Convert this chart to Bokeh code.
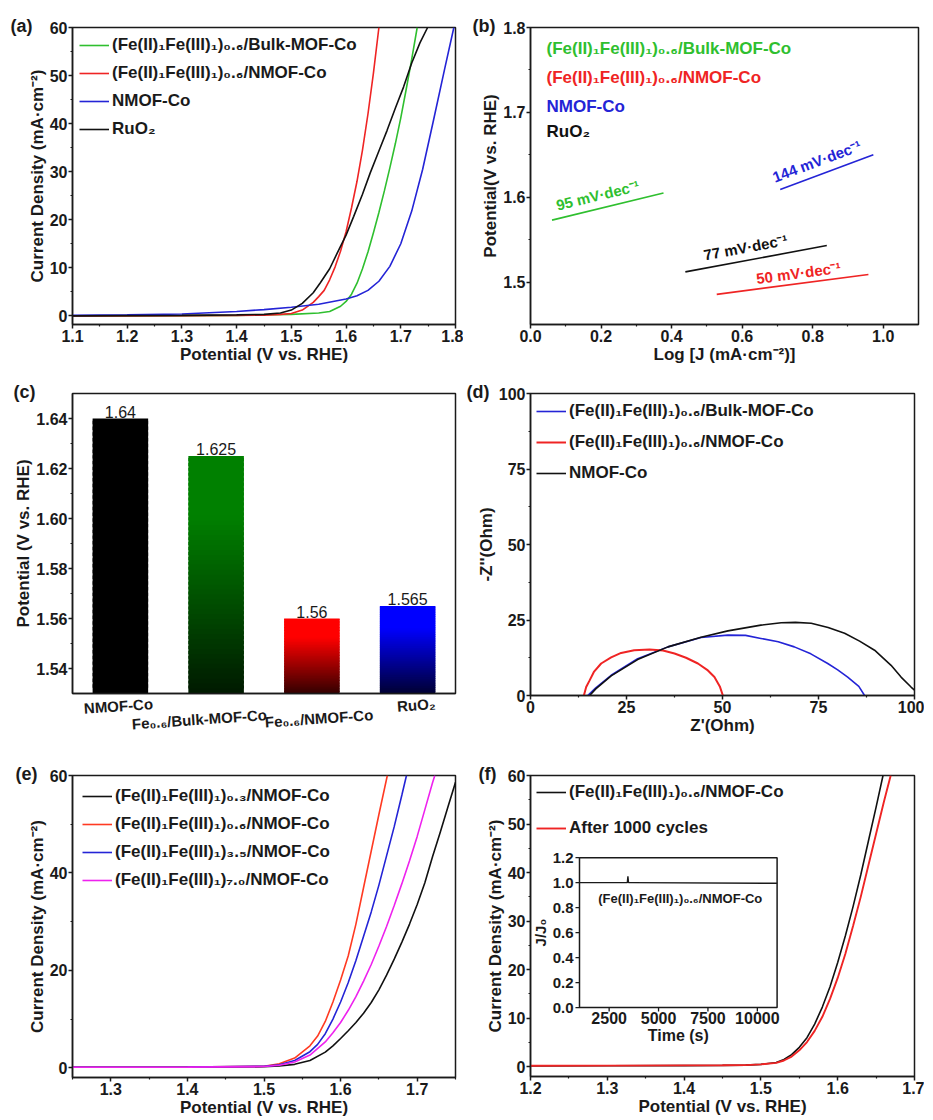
import math
from bokeh.plotting import figure
from bokeh.models import Range1d, FixedTicker, Label, LinearAxis, NumeralTickFormatter, Title
from bokeh.layouts import gridplot
from bokeh.embed import file_html
from bokeh.resources import INLINE
from bokeh.core.properties import value

FONT = "Liberation Sans"
INK = "#1a1a1a"
GREEN = "#2fbf2f"
RED = "#ef2424"
BLUE = "#2424d6"
BLACK = "#111111"
MAGENTA = "#ee22ee"
ORED = "#ff3a22"

# ---------------- (a) LSV ----------------
a_names = ["(Fe(II)₁Fe(III)₁)₀.₆/Bulk-MOF-Co", "(Fe(II)₁Fe(III)₁)₀.₆/NMOF-Co", "NMOF-Co", "RuO₂"]
a_bulk_x = [1.10, 1.30, 1.40, 1.50, 1.55, 1.57, 1.59, 1.60, 1.61, 1.62, 1.63, 1.64, 1.65, 1.66, 1.67, 1.68, 1.69, 1.70, 1.71, 1.72, 1.73]
a_bulk_y = [0.0, 0.05, 0.1, 0.3, 0.6, 0.9, 2.0, 3.0, 4.5, 6.8, 9.8, 13.3, 17.3, 21.5, 26.0, 30.8, 35.8, 41.2, 47.2, 53.4, 60.0]
a_fe_x = [1.10, 1.30, 1.40, 1.45, 1.48, 1.50, 1.52, 1.54, 1.55, 1.56, 1.57, 1.58, 1.59, 1.60, 1.61, 1.62, 1.63, 1.64, 1.65, 1.66]
a_fe_y = [0.0, 0.05, 0.1, 0.15, 0.3, 0.5, 1.2, 2.8, 4.0, 5.3, 7.5, 10.2, 13.5, 17.5, 22.5, 28.0, 34.5, 42.0, 50.5, 60.0]
a_nmof_x = [1.10, 1.20, 1.30, 1.40, 1.45, 1.50, 1.55, 1.60, 1.62, 1.64, 1.66, 1.68, 1.70, 1.72, 1.74, 1.76, 1.78, 1.797]
a_nmof_y = [0.1, 0.2, 0.4, 0.9, 1.3, 1.8, 2.4, 3.5, 4.2, 5.3, 7.2, 10.3, 15.0, 21.8, 30.5, 40.8, 51.3, 60.0]
a_ruo2_x = [1.10, 1.30, 1.40, 1.45, 1.48, 1.50, 1.52, 1.54, 1.553, 1.57, 1.584, 1.60, 1.614, 1.63, 1.644, 1.66, 1.675, 1.69, 1.705, 1.72, 1.735, 1.749]
a_ruo2_y = [0.0, 0.1, 0.2, 0.3, 0.6, 1.2, 2.6, 4.8, 6.9, 9.8, 13.1, 16.8, 20.7, 25.3, 29.7, 34.3, 38.6, 43.2, 47.6, 52.6, 56.8, 60.0]

# ---------------- (b) Tafel ----------------
b_names = ["(Fe(II)₁Fe(III)₁)₀.₆/Bulk-MOF-Co", "(Fe(II)₁Fe(III)₁)₀.₆/NMOF-Co", "NMOF-Co", "RuO₂"]
b_bulk_x = [0.061, 0.377]
b_bulk_y = [1.573, 1.605]
b_fe_x = [0.528, 0.958]
b_fe_y = [1.4855, 1.509]
b_nmof_x = [0.708, 0.972]
b_nmof_y = [1.609, 1.650]
b_ruo2_x = [0.439, 0.840]
b_ruo2_y = [1.512, 1.543]
b_slopes = ["95 mV·dec⁻¹", "50 mV·dec⁻¹", "144 mV·dec⁻¹", "77 mV·dec⁻¹"]

# ---------------- (c) overpotential bars ----------------
c_cats = ["NMOF-Co", "Fe₀.₆/Bulk-MOF-Co", "Fe₀.₆/NMOF-Co", "RuO₂"]
c_vals = [1.64, 1.625, 1.56, 1.565]
c_val_text = ["1.64", "1.625", "1.56", "1.565"]

# ---------------- (d) Nyquist ----------------
d_names = ["(Fe(II)₁Fe(III)₁)₀.₆/Bulk-MOF-Co", "(Fe(II)₁Fe(III)₁)₀.₆/NMOF-Co", "NMOF-Co"]
d_bulk_x = [14.9, 17.0, 21.0, 27.9, 35.8, 44.4, 51.4, 56.0, 60.0, 64.5, 68.7, 73.0, 77.4, 80.0, 82.6, 85.5, 87.0]
d_bulk_y = [0.0, 2.5, 6.7, 12.2, 16.1, 19.2, 20.0, 19.9, 18.9, 17.8, 16.1, 13.8, 10.6, 8.5, 6.1, 3.0, 0.0]
d_fe_x = [13.9, 14.5, 15.4, 16.5, 18.4, 21.0, 23.6, 27.0, 31.0, 34.5, 37.5, 40.5, 43.6, 46.0, 47.9, 49.3, 50.1]
d_fe_y = [0.0, 2.8, 5.0, 7.8, 10.6, 12.6, 14.1, 15.0, 15.2, 14.9, 13.9, 12.5, 10.6, 8.5, 6.1, 3.0, 0.0]
d_nmof_x = [15.4, 17.0, 21.0, 27.9, 35.8, 44.4, 51.4, 60.0, 65.3, 69.0, 73.1, 77.5, 81.8, 85.7, 89.6, 93.9, 96.5, 99.1, 100.0]
d_nmof_y = [0.0, 2.2, 6.5, 11.9, 16.1, 19.3, 21.4, 23.3, 24.1, 24.2, 23.9, 22.5, 20.6, 18.0, 15.0, 10.0, 6.1, 2.8, 1.8]

# ---------------- (e) Fe ratio LSV ----------------
e_names = ["(Fe(II)₁Fe(III)₁)₀.₃/NMOF-Co", "(Fe(II)₁Fe(III)₁)₀.₆/NMOF-Co", "(Fe(II)₁Fe(III)₁)₃.₅/NMOF-Co", "(Fe(II)₁Fe(III)₁)₇.₀/NMOF-Co"]
e_03_x = [1.25, 1.40, 1.50, 1.52, 1.54, 1.56, 1.58, 1.59, 1.60, 1.61, 1.62, 1.63, 1.64, 1.65, 1.66, 1.67, 1.68, 1.69, 1.70, 1.71, 1.72, 1.73, 1.74, 1.75]
e_03_y = [0.1, 0.12, 0.2, 0.35, 0.7, 1.5, 3.2, 4.5, 6.0, 7.6, 9.3, 11.2, 13.4, 16.0, 19.0, 22.3, 25.8, 29.5, 33.5, 38.0, 43.3, 48.3, 53.5, 58.6]
e_06_x = [1.25, 1.40, 1.50, 1.52, 1.54, 1.56, 1.57, 1.58, 1.59, 1.60, 1.61, 1.62, 1.63, 1.64, 1.65, 1.661]
e_06_y = [0.1, 0.12, 0.3, 0.8, 2.0, 4.5, 6.5, 9.5, 13.5, 18.0, 23.0, 29.5, 37.0, 44.5, 52.0, 60.0]
e_35_x = [1.25, 1.40, 1.50, 1.52, 1.54, 1.56, 1.57, 1.58, 1.59, 1.60, 1.61, 1.62, 1.63, 1.64, 1.65, 1.66, 1.67, 1.68, 1.686]
e_35_y = [0.1, 0.12, 0.3, 0.6, 1.5, 3.3, 4.8, 7.0, 10.0, 13.5, 17.5, 22.0, 27.0, 32.0, 37.5, 43.5, 49.5, 56.0, 60.0]
e_70_x = [1.25, 1.40, 1.50, 1.52, 1.54, 1.56, 1.58, 1.59, 1.60, 1.61, 1.62, 1.63, 1.64, 1.65, 1.66, 1.67, 1.68, 1.69, 1.70, 1.71, 1.72, 1.723]
e_70_y = [0.1, 0.12, 0.25, 0.5, 1.2, 2.6, 5.3, 7.2, 9.3, 11.8, 14.6, 17.8, 21.2, 25.0, 29.0, 33.3, 37.8, 42.5, 47.5, 53.0, 58.5, 60.0]

# ---------------- (f) stability ----------------
f_names = ["(Fe(II)₁Fe(III)₁)₀.₆/NMOF-Co", "After 1000 cycles"]
f_fresh_x = [1.20, 1.30, 1.40, 1.45, 1.48, 1.50, 1.52, 1.53, 1.54, 1.55, 1.56, 1.57, 1.58, 1.59, 1.60, 1.61, 1.62, 1.63, 1.64, 1.65, 1.659]
f_fresh_y = [0.15, 0.2, 0.25, 0.3, 0.35, 0.5, 0.9, 1.5, 2.5, 4.0, 6.0, 8.8, 12.3, 16.5, 21.5, 27.0, 33.0, 39.5, 46.5, 53.5, 60.0]
f_cyc_x = [1.20, 1.30, 1.40, 1.45, 1.48, 1.50, 1.52, 1.53, 1.54, 1.55, 1.56, 1.57, 1.58, 1.59, 1.60, 1.61, 1.62, 1.63, 1.64, 1.65, 1.66, 1.669]
f_cyc_y = [0.2, 0.25, 0.3, 0.32, 0.35, 0.5, 0.8, 1.3, 2.1, 3.4, 5.1, 7.4, 10.3, 14.0, 18.3, 23.3, 29.0, 35.0, 41.5, 48.0, 54.5, 60.0]
ins_t = [1000, 3350, 3420, 3450, 3480, 3550, 11000]
ins_v = [1.0, 1.0, 1.0, 1.05, 1.0, 1.0, 0.995]
ins_xticks = [2500, 5000, 7500, 10000]
ins_xlabels = ["2500", "5000", "7500", "10000"]
ins_yticks = [0.0, 0.2, 0.4, 0.6, 0.8, 1.0, 1.2]
ins_ylabels = ["0.0", "0.2", "0.4", "0.6", "0.8", "1.0", "1.2"]
ins_note = "(Fe(II)₁Fe(III)₁)₀.₆/NMOF-Co"


# ================= helpers =================
def make_fig(xr, yr, fw, fh, left, right, top, bottom):
    p = figure(title=None, x_range=Range1d(*xr), y_range=Range1d(*yr),
               frame_width=fw, frame_height=fh,
               min_border_left=left, min_border_right=right,
               min_border_top=top, min_border_bottom=bottom,
               output_backend="svg", toolbar_location=None,
               background_fill_color="white", border_fill_color="white")
    p.xgrid.visible = False
    p.ygrid.visible = False
    p.outline_line_color = INK
    p.outline_line_width = 1.5
    p.outline_line_alpha = 1.0
    return p


def style_axis(ax, label_size="16px"):
    ax.axis_label_text_font = FONT
    ax.axis_label_text_font_style = "bold"
    ax.axis_label_text_font_size = "17px"
    ax.axis_label_text_color = INK
    ax.major_label_text_font = FONT
    ax.major_label_text_font_style = "bold"
    ax.major_label_text_font_size = label_size
    ax.major_label_text_color = INK
    ax.axis_line_color = INK
    ax.axis_line_width = 1.5
    ax.major_tick_line_color = INK
    ax.major_tick_line_width = 1.5
    ax.minor_tick_line_color = INK
    ax.minor_tick_line_width = 1.2
    ax.major_tick_in = 0
    ax.major_tick_out = 4
    ax.minor_tick_in = 0
    ax.minor_tick_out = 2
    ax.axis_label_standoff = 0
    ax.major_label_standoff = 1


def style_axes(p, xticks, xminor, yticks, yminor, xlabel, ylabel):
    p.xaxis.ticker = FixedTicker(ticks=xticks, minor_ticks=xminor)
    p.yaxis.ticker = FixedTicker(ticks=yticks, minor_ticks=yminor)
    p.xaxis.axis_label = xlabel
    p.yaxis.axis_label = ylabel
    style_axis(p.xaxis[0])
    style_axis(p.yaxis[0])


def panel_tag(p, text, dx):
    p.add_layout(Title(text=text, align="left", offset=dx, standoff=-16,
                       text_font=FONT, text_font_style="bold", text_font_size="18px",
                       text_color=INK), "above")


def style_legend(p, margin, item_h, spacing):
    lg = p.legend[0]
    lg.location = "top_left"
    lg.border_line_alpha = 0
    lg.background_fill_alpha = 0
    lg.label_text_font = FONT
    lg.label_text_font_style = "bold"
    lg.label_text_font_size = "17px"
    lg.label_text_color = INK
    lg.glyph_width = 30
    lg.glyph_height = item_h
    lg.label_height = item_h
    lg.label_standoff = 3
    lg.spacing = spacing
    lg.padding = 4
    lg.margin = margin


LW = 1.6

# ================= (a) =================
pa = make_fig((1.1, 1.8), (-1.8, 60), 383, 297, 72, 8, 27, 44)
style_axes(pa, [1.1, 1.2, 1.3, 1.4, 1.5, 1.6, 1.7, 1.8],
           [1.15, 1.25, 1.35, 1.45, 1.55, 1.65, 1.75],
           [0, 10, 20, 30, 40, 50, 60], [5, 15, 25, 35, 45, 55],
           "Potential (V vs. RHE)", "Current Density (mA·cm⁻²)")
pa.line(a_bulk_x, a_bulk_y, line_color=GREEN, line_width=LW, legend_label=a_names[0])
pa.line(a_fe_x, a_fe_y, line_color=RED, line_width=LW, legend_label=a_names[1])
pa.line(a_nmof_x, a_nmof_y, line_color=BLUE, line_width=LW, legend_label=a_names[2])
pa.line(a_ruo2_x, a_ruo2_y, line_color=BLACK, line_width=LW, legend_label=a_names[3])
style_legend(pa, 3, 22, 6)
panel_tag(pa, "(a)", -62)

# ================= (b) =================
B_XR, B_YR, B_FW, B_FH = (0.0, 1.1), (1.45, 1.8), 388, 297
pb = make_fig(B_XR, B_YR, B_FW, B_FH, 63, 10, 27, 44)
style_axes(pb, [0.0, 0.2, 0.4, 0.6, 0.8, 1.0], [0.1, 0.3, 0.5, 0.7, 0.9],
           [1.5, 1.6, 1.7, 1.8], [1.55, 1.65, 1.75],
           "Log [J (mA·cm⁻²)]", "Potential(V vs. RHE)")
pb.xaxis.formatter = NumeralTickFormatter(format="0.0")
b_series = [(b_bulk_x, b_bulk_y, GREEN), (b_fe_x, b_fe_y, RED),
            (b_nmof_x, b_nmof_y, BLUE), (b_ruo2_x, b_ruo2_y, BLACK)]
b_label_dx = [-8, 7, -7, -9]
for (xs, ys, col), lab, dx in zip(b_series, b_slopes, b_label_dx):
    pb.line(xs, ys, line_color=col, line_width=LW)
    sdx = (xs[1] - xs[0]) / (B_XR[1] - B_XR[0]) * B_FW
    sdy = (ys[1] - ys[0]) / (B_YR[1] - B_YR[0]) * B_FH
    ang = math.atan2(sdy, sdx)
    pb.text(x=[(xs[0] + xs[1]) / 2], y=[(ys[0] + ys[1]) / 2], text=[lab], angle=ang,
            x_offset=dx, y_offset=-3, text_align="center", text_baseline="bottom",
            text_font=value(FONT), text_font_style="bold", text_font_size="15px",
            text_color=col)
b_name_cols = [GREEN, RED, BLUE, BLACK]
b_name_dy = [-21, -50, -79, -104]
for name, col, dy in zip(b_names, b_name_cols, b_name_dy):
    pb.add_layout(Label(x=B_XR[0], y=B_YR[1], x_offset=16, y_offset=dy, text=name,
                        text_font=FONT, text_font_style="bold", text_font_size="17px",
                        text_color=col, text_baseline="middle", text_align="left"))
panel_tag(pb, "(b)", -58)

# ================= (c) =================
C_Y0, C_Y1 = 1.53, 1.65
pc = make_fig((-0.5, 3.5), (C_Y0, C_Y1), 383, 300, 72, 8, 25, 47)
c_idx = list(range(len(c_cats)))
c_row = [0, 1, 1, 0]                    # staggered label rows (layout)
c_shift = [0.34, 0.53, 0.64, 0.29]      # right end of each tilted label (layout)
row0 = [i + c_shift[i] for i in c_idx if c_row[i] == 0]
row1 = [i + c_shift[i] for i in c_idx if c_row[i] == 1]
style_axes(pc, row0, [], [1.54, 1.56, 1.58, 1.60, 1.62, 1.64],
           [1.55, 1.57, 1.59, 1.61, 1.63], None, "Potential (V vs. RHE)")
pc.yaxis.formatter = NumeralTickFormatter(format="0.00")
pc.xaxis.major_label_overrides = {i + c_shift[i]: c_cats[i] for i in c_idx if c_row[i] == 0}
pc.xaxis.major_label_orientation = 0.07
pc.xaxis.major_label_text_font_size = "15px"
pc.xaxis.major_tick_out = 0
pc.xaxis.major_label_standoff = 10
ax2 = LinearAxis(ticker=FixedTicker(ticks=row1),
                 major_label_overrides={i + c_shift[i]: c_cats[i] for i in c_idx if c_row[i] == 1})
style_axis(ax2, "15px")
ax2.axis_line_alpha = 0
ax2.major_tick_out = 0
ax2.minor_tick_out = 0
ax2.major_label_orientation = 0.07
ax2.major_label_standoff = -14
pc.add_layout(ax2, "below")
c_rgb = [(0, 0, 0), (0, 128, 0), (255, 0, 0), (0, 0, 255)]
NS = 48
sx, sb, st, scol = [], [], [], []
for i, v, rgb in zip(c_idx, c_vals, c_rgb):
    for k in range(NS):
        frac = (k + 0.5) / NS
        f = 0.2 + 0.8 * min(1.0, frac / 0.75)
        sx.append(i)
        sb.append(C_Y0 + (v - C_Y0) * k / NS)
        st.append(min(v, C_Y0 + (v - C_Y0) * (k + 1.6) / NS))
        scol.append("#%02x%02x%02x" % tuple(int(round(c * f)) for c in rgb))
pc.vbar(x=sx, bottom=sb, top=st, width=0.58, fill_color=scol, line_color=None)
pc.text(x=c_idx, y=c_vals, text=c_val_text, text_align="center", text_baseline="bottom",
        y_offset=-1, text_font=value(FONT), text_font_size="16px", text_color=INK)
panel_tag(pc, "(c)", -59)

# ================= (d) =================
pd_ = make_fig((0, 100), (0, 100), 384, 302, 67, 10, 25, 45)
style_axes(pd_, [0, 25, 50, 75, 100], [12.5, 37.5, 62.5, 87.5],
           [0, 25, 50, 75, 100], [12.5, 37.5, 62.5, 87.5], "Z'(Ohm)", "-Z''(Ohm)")
pd_.line(d_bulk_x, d_bulk_y, line_color=BLUE, line_width=LW, legend_label=d_names[0])
pd_.line(d_fe_x, d_fe_y, line_color=RED, line_width=LW + 0.4, legend_label=d_names[1])
pd_.line(d_nmof_x, d_nmof_y, line_color=BLACK, line_width=LW, legend_label=d_names[2])
style_legend(pd_, 2, 24, 7)
panel_tag(pd_, "(d)", -64)

# ================= (e) =================
pe = make_fig((1.25, 1.75), (-2, 60), 383, 302, 72, 8, 31, 45)
style_axes(pe, [1.3, 1.4, 1.5, 1.6, 1.7], [1.25, 1.35, 1.45, 1.55, 1.65, 1.75],
           [0, 20, 40, 60], [10, 30, 50],
           "Potential (V vs. RHE)", "Current Density (mA·cm⁻²)")
pe.line(e_03_x, e_03_y, line_color=BLACK, line_width=LW, legend_label=e_names[0])
pe.line(e_06_x, e_06_y, line_color=ORED, line_width=LW, legend_label=e_names[1])
pe.line(e_35_x, e_35_y, line_color=BLUE, line_width=LW, legend_label=e_names[2])
pe.line(e_70_x, e_70_y, line_color=MAGENTA, line_width=LW, legend_label=e_names[3])
style_legend(pe, 6, 22, 6)
panel_tag(pe, "(e)", -57)

# ================= (f) =================
pf = make_fig((1.2, 1.7), (-2, 60), 384, 301, 67, 10, 32, 45)
style_axes(pf, [1.2, 1.3, 1.4, 1.5, 1.6, 1.7], [1.25, 1.35, 1.45, 1.55, 1.65],
           [0, 10, 20, 30, 40, 50, 60], [5, 15, 25, 35, 45, 55],
           "Potential (V vs. RHE)", "Current Density (mA·cm⁻²)")
pf.line(f_fresh_x, f_fresh_y, line_color=BLACK, line_width=LW, legend_label=f_names[0])
pf.line(f_cyc_x, f_cyc_y, line_color=RED, line_width=LW + 0.3, legend_label=f_names[1])
style_legend(pf, 2, 22, 14)
panel_tag(pf, "(f)", -52)

# inset (placed in the main panel's data space)
INS_XR = (1000, 11000)
INS_YR = (0.0, 1.2)
INSET_BOX = (1.2638, 1.5211, 12.2, 43.07)
ins = pf.subplot(x_source=Range1d(*INS_XR), y_source=Range1d(*INS_YR),
                 x_target=Range1d(INSET_BOX[0], INSET_BOX[1]),
                 y_target=Range1d(INSET_BOX[2], INSET_BOX[3]))
ins.quad(left=[INS_XR[0]], right=[INS_XR[1]], bottom=[INS_YR[0]], top=[INS_YR[1]],
         fill_color="white", line_color=INK, line_width=1.5)
ins.line(ins_t, ins_v, line_color=INK, line_width=1.4)
tick_y = (INS_YR[1] - INS_YR[0]) / 150 * 4
tick_x = (INS_XR[1] - INS_XR[0]) / 197 * 4
ins.segment(x0=ins_xticks, y0=[INS_YR[0]] * len(ins_xticks), x1=ins_xticks,
            y1=[INS_YR[0] - tick_y] * len(ins_xticks), line_color=INK, line_width=1.3)
ins.segment(x0=[INS_XR[0]] * len(ins_yticks), y0=ins_yticks,
            x1=[INS_XR[0] - tick_x] * len(ins_yticks), y1=ins_yticks, line_color=INK, line_width=1.3)
ins.text(x=[INS_XR[0]] * len(ins_yticks), y=ins_yticks, text=ins_ylabels, x_offset=-6,
         text_align="right", text_baseline="middle", text_font=value(FONT),
         text_font_style="bold", text_font_size="15px", text_color=INK)
ins.text(x=ins_xticks, y=[INS_YR[0]] * len(ins_xticks), text=ins_xlabels, y_offset=4,
         text_align="center", text_baseline="top", text_font=value(FONT),
         text_font_style="bold", text_font_size="16px", text_color=INK)
ins.text(x=[(INS_XR[0] + INS_XR[1]) / 2], y=[INS_YR[0]], text=["Time (s)"], y_offset=19,
         text_align="center", text_baseline="top", text_font=value(FONT),
         text_font_style="bold", text_font_size="16px", text_color=INK)
ins.text(x=[INS_XR[0]], y=[(INS_YR[0] + INS_YR[1]) / 2], text=["J/J₀"], x_offset=-39,
         angle=math.pi / 2, text_align="center", text_baseline="middle", text_font=value(FONT),
         text_font_style="bold", text_font_size="15px", text_color=INK)
ins.text(x=[6100], y=[0.87], text=[ins_note], text_align="center", text_baseline="middle",
         text_font=value(FONT), text_font_style="bold", text_font_size="13px", text_color=INK)

grid = gridplot([[pa, pb], [pc, pd_], [pe, pf]], toolbar_location=None)
open("out.html", "w").write(file_html(grid, INLINE))
